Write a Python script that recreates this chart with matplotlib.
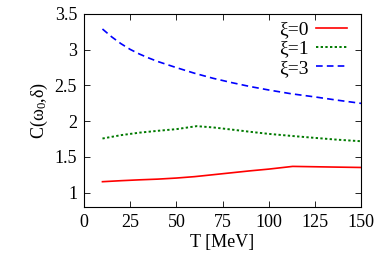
import matplotlib
matplotlib.use("Agg")
import matplotlib.pyplot as plt
import numpy as np

plt.rcParams['font.family'] = ['Liberation Serif', 'DejaVu Serif']
plt.rcParams['mathtext.fontset'] = 'custom'
plt.rcParams['mathtext.rm'] = 'Liberation Serif'
plt.rcParams['mathtext.it'] = 'Liberation Serif:italic'

T = [10, 20, 30, 40, 50, 60, 70, 80, 90, 100, 113, 125, 137, 150]
xi0 = [1.154, 1.168, 1.180, 1.190, 1.205, 1.225, 1.252, 1.279, 1.306, 1.330, 1.368, 1.363, 1.358, 1.353]
T1 = [10, 20, 30, 40, 50, 61, 70, 80, 90, 100, 113, 125, 137, 150]
xi1 = [1.758, 1.805, 1.840, 1.866, 1.889, 1.931, 1.913, 1.883, 1.852, 1.823, 1.793, 1.767, 1.742, 1.720]
T3 = [10, 15, 20, 25, 30, 35, 40, 50, 60, 70, 80, 90, 100, 112, 125, 137, 150]
xi3 = [3.29, 3.18, 3.085, 3.005, 2.94, 2.885, 2.835, 2.75, 2.67, 2.60, 2.54, 2.485, 2.437, 2.385, 2.34, 2.295, 2.25]

xticks = [0, 25, 50, 75, 100, 125, 150]
yticks = [1, 1.5, 2, 2.5, 3, 3.5]
ytick_labels = ['1', '1.5', '2', '2.5', '3', '3.5']

fig = plt.figure(figsize=(3.82, 2.76), dpi=100)
ax = fig.add_axes([84/382, 1-207/276, (361-84)/382, (207-14)/276])

ax.plot(T, xi0, color='#ff0000', lw=1.2, ls='-', label='ξ=0')
ax.plot(T1, xi1, color='#007a00', lw=1.4, ls=(0, (1.2, 1.2)), label='ξ=1')
ax.plot(T3, xi3, color='#0000ff', lw=1.2, ls=(0, (4, 2.5)), label='ξ=3')

ax.set_xlim(0, 150)
ax.set_ylim(0.8, 3.5)
ax.set_xticks(xticks)
ax.set_yticks(yticks)
ax.set_yticklabels(ytick_labels)
ax.tick_params(direction='in', top=True, right=True, labelsize=13, length=4, width=0.6, pad=5)
for s in ax.spines.values():
    s.set_linewidth(0.8)

ax.set_xlabel('T [MeV]', fontsize=13, labelpad=2)
ax.set_ylabel(r'C($\mathregular{\omega_0}$,δ)', fontsize=13, labelpad=3)

ax.legend(loc='upper right', bbox_to_anchor=(1.0, 1.035), frameon=False,
          markerfirst=False, fontsize=14,
          handlelength=1.6, handletextpad=0.4, labelspacing=0.08,
          borderaxespad=0.35, borderpad=0.35)

fig.savefig('out.png', dpi=100)
